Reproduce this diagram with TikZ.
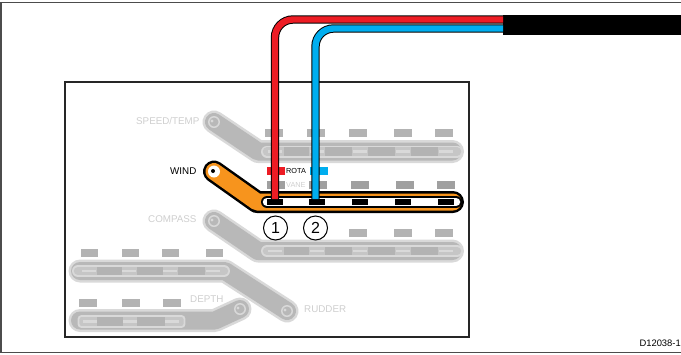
\documentclass[tikz,border=0pt]{standalone}
\usepackage{fontspec}
\setmainfont{Liberation Sans}
\definecolor{rimg}{HTML}{D9D9D9}
\definecolor{fillg}{HTML}{B8B8B8}
\definecolor{slotg}{HTML}{C6C6C6}
\definecolor{padg}{HTML}{B3B3B3}
\definecolor{padd}{HTML}{A0A0A0}
\definecolor{txtg}{HTML}{CFCFCF}
\definecolor{orng}{HTML}{F7941D}
\definecolor{wred}{HTML}{ED1C24}
\definecolor{wblue}{HTML}{00AEEF}
\tikzset{
  lab/.style={inner sep=0pt,font=\fontsize{9.8}{10}\selectfont,text=txtg},
  smalllab/.style={inner sep=0pt,font=\fontsize{7.3}{8}\selectfont},
  numcirc/.style={circle,draw=black,fill=white,line width=1pt,minimum size=24pt,inner sep=0pt,font=\fontsize{16}{17}\selectfont},
}
\newcommand{\graystrip}[1]{%
  \draw[rimg,line width=23pt,line cap=round,line join=round] #1;
  \draw[fillg,line width=18pt,line cap=round,line join=round] #1;
}
\newcommand{\grayslot}[3]{%
  \draw[rimg,line width=12pt,line cap=round] (#1,#3) -- (#2,#3);
  \draw[slotg,line width=8.5pt,line cap=round] (#1,#3) -- (#2,#3);
}
\newcommand{\screw}[2]{%
  \fill[rimg] (#1,#2) circle (6pt);
  \fill[fillg] (#1,#2) circle (4.5pt);
  \fill[rimg] (#1-2,#2-1) circle (1.6pt);
}
\newcommand{\pads}[5]{\foreach \px in {#1}{\fill[#5] (\px,#2) rectangle ++(#3,#4);}}
\newcommand{\terms}[2]{\foreach \px in {#1}{%
  \fill[rimg] (\px,#2-1.3) rectangle ++(14,2.6);}}
\newcommand{\blocks}[2]{\foreach \pa/\pb in {#1}{%
  \fill[padg] (\pa,#2-4.2) rectangle (\pb,#2+4.2);}}
\begin{document}
\begin{tikzpicture}[x=1pt,y=-1pt]
\useasboundingbox (0,0) rectangle (681,354);
\fill[white] (0,0) rectangle (681,354);
% outer frame
\draw[black!70,line width=1.6pt] (690,2.5) -- (1,2.5) -- (1,352.5) -- (690,352.5);
% inner board
\draw[black!85,line width=2pt] (64.5,81.5) rectangle (468.5,336.5);

% SPEED/TEMP
\graystrip{(214,122) -- (258,151.5) -- (452.5,151.5)}
\grayslot{267}{457}{151.5}
\blocks{284/309,325/352,368/395,411/438}{151.5}
\terms{268,310,353,396,439}{151.5}
\screw{214}{122}
\pads{265,307,349,394,435}{129}{18}{8}{padg}
% COMPASS
\graystrip{(214,221) -- (258,251) -- (452.5,251)}
\grayslot{267}{457}{251}
\blocks{284/309,325/352,368/395,411/438}{251}
\terms{268,310,353,396,439}{251}
\screw{214}{221}
\pads{349,394,435}{229}{18}{8}{padg}
% RUDDER
\graystrip{(80,271) -- (225,271) -- (287,311)}
\grayslot{78}{224}{271}
\blocks{97/122,137/163,178/205}{271}
\terms{82,122,163,206}{271}
\screw{287}{311}
\pads{81,122,162,206}{249}{17}{8}{padg}
% DEPTH
\graystrip{(80,320.5) -- (215,320.5) -- (240,309)}
\draw[rimg,fill=slotg,line width=1.8pt,rounded corners=3pt] (78.5,316) rectangle (184.5,327);
\blocks{97/123,137/165}{321.5}
\terms{83,123,165}{321.5}
\screw{240}{309}
\pads{79,122,163}{299}{18}{8}{padg}

% WIND, active
\draw[black,line width=22pt,line cap=round,line join=round] (214,171.5) -- (257,202) -- (453,202);
\draw[orng,line width=17pt,line cap=round,line join=round] (214,171.5) -- (257,202) -- (453,202);
\draw[black,line width=12pt,line cap=round] (267,202) -- (456,202);
\draw[white,line width=8.5pt,line cap=round] (267,202) -- (456,202);
\foreach \px in {267,309,352,395,438}{\fill[black] (\px,199) rectangle ++(16,6);}
\fill[white] (214,171.5) circle (6pt);
\fill[black] (213,171) circle (2pt);
\pads{267,309,351,396,437}{181}{18}{8}{padd}
\fill[wred] (267,167) rectangle ++(18,8);
\fill[wblue] (310,167) rectangle ++(18,8);

% cable and wires
\node[fill=black,minimum width=178pt,minimum height=20pt,inner sep=0pt,anchor=north west] (cable) at (503,15) {};
\coordinate (redin) at (cable.west |- 0,19.5);
\coordinate (bluein) at (cable.west |- 0,28.5);
\coordinate (redend) at (275,200);
\coordinate (blueend) at (315.5,200);
\foreach \w/\c/\a/\cx/\cy in {redin/wred/redend/275/19.5,bluein/wblue/blueend/315.5/28.5}{
  \draw[black,line width=8.4pt,rounded corners=18pt] (\w) -- (\cx,\cy) -- (\a);
  \draw[\c,line width=6.4pt,rounded corners=18pt] (\w) -- (\cx,\cy) -- ([yshift=1pt]\a);
}

% labels
\node[lab,anchor=west] (speed) at (136,121) {SPEED/TEMP};
\node[lab,anchor=west,text=black] (wind) at (170,171) {WIND};
\node[lab,anchor=west] (compass) at (148,219) {COMPASS};
\node[lab,anchor=west] (depth) at (190,299) {DEPTH};
\node[lab,anchor=west] (rudder) at (304,309) {RUDDER};
\node[smalllab,anchor=west] (rota) at (286,171) {ROTA};
\node[smalllab,anchor=west,text=txtg] (vane) at (286,185) {VANE};
\node[numcirc] (one) at (275.5,228) {1};
\node[numcirc] (two) at (315.5,228) {2};
\node[inner sep=0pt,anchor=east,font=\fontsize{9.4}{10}\selectfont] (code) at (681,343) {D12038-1};
\end{tikzpicture}
\end{document}
